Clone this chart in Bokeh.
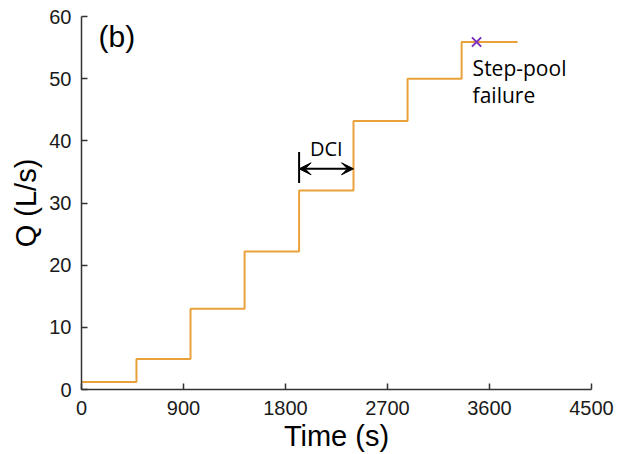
from bokeh.plotting import figure
from bokeh.models import Range1d, FixedTicker, Label, Arrow, VeeHead
from bokeh.embed import file_html
from bokeh.resources import INLINE

# Step discharge hydrograph
step_times = [0, 485, 962, 1439, 1920, 2400, 2877, 3354, 3848]
step_q = [1.2, 4.9, 13.0, 22.2, 32.0, 43.2, 50.0, 55.9, 55.9]
failure_time = [3486]
failure_q = [55.9]
x_ticks = [0, 900, 1800, 2700, 3600, 4500]
y_ticks = [0, 10, 20, 30, 40, 50, 60]
dci_start, dci_end, dci_y = 1920, 2400, 35.5

p = figure(width=621, height=454, output_backend="svg", toolbar_location=None,
           x_range=Range1d(0, 4500), y_range=Range1d(0, 60),
           min_border_left=81, min_border_right=30, min_border_top=16, min_border_bottom=64)
p.outline_line_color = None
p.grid.visible = False

p.step(step_times, step_q, mode="after", line_color="#E9A23B", line_width=2)
p.scatter(failure_time, failure_q, marker="x", size=13, line_color="#7A2FC0", line_width=2)

# DCI annotation
p.segment([dci_start], [33.2], [dci_start], [38.2], line_color="black", line_width=2)
p.add_layout(Arrow(start=VeeHead(size=12, fill_color="black", line_color="black"),
                   end=VeeHead(size=12, fill_color="black", line_color="black"),
                   x_start=dci_start, y_start=dci_y, x_end=dci_end, y_end=dci_y,
                   line_color="black", line_width=2))
p.add_layout(Label(x=(dci_start + dci_end) / 2, y=38.7, text="DCI", text_align="center",
                   text_baseline="alphabetic", text_font="Open Sans", text_font_size="20px",
                   text_color="black"))
p.add_layout(Label(x=3451, y=51.7, text="Step-pool", text_align="left",
                   text_baseline="alphabetic", text_font="Open Sans", text_font_size="21px",
                   text_color="black"))
p.add_layout(Label(x=3451, y=47.35, text="failure", text_align="left",
                   text_baseline="alphabetic", text_font="Open Sans", text_font_size="21px",
                   text_color="black"))
p.add_layout(Label(x=150, y=56.8, text="(b)", text_align="left",
                   text_baseline="alphabetic", text_font="Liberation Sans", text_font_size="30px",
                   text_color="black"))

for ax, ticks in ((p.xaxis[0], x_ticks), (p.yaxis[0], y_ticks)):
    ax.ticker = FixedTicker(ticks=ticks)
    ax.minor_tick_line_color = None
    ax.major_tick_in = 6
    ax.major_tick_out = 0
    ax.axis_line_color = "#333333"
    ax.axis_line_width = 1.5
    ax.major_tick_line_color = "#333333"
    ax.major_tick_line_width = 1.5
    ax.major_label_text_font = "Liberation Sans"
    ax.major_label_text_font_size = "20px"
    ax.major_label_text_color = "#1a1a1a"
    ax.axis_label_text_font = "Liberation Sans"
    ax.axis_label_text_font_size = "29px"
    ax.axis_label_text_font_style = "normal"
    ax.axis_label_text_color = "black"

p.xaxis.axis_label = "Time (s)"
p.yaxis.axis_label = "Q (L/s)"
p.xaxis.major_label_standoff = 11
p.yaxis.major_label_standoff = 10
p.xaxis.axis_label_standoff = 2
p.yaxis.axis_label_standoff = 4

open("out.html", "w").write(file_html(p, INLINE))
